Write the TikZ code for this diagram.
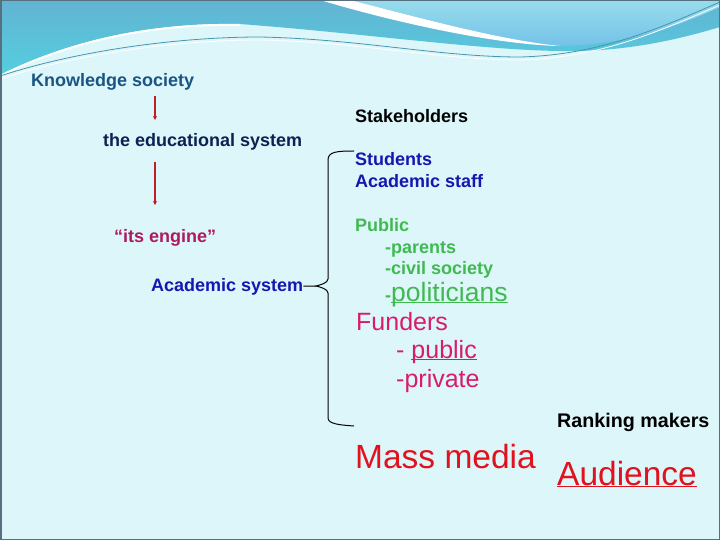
\documentclass[tikz,border=0pt]{standalone}
\usepackage{fontspec}
\setmainfont{Liberation Sans}
\usetikzlibrary{arrows.meta}

\definecolor{slidebg}{RGB}{221,246,250}
\definecolor{wavetop}{RGB}{98,180,210}
\definecolor{wavelow}{RGB}{84,206,224}
\definecolor{skytop}{RGB}{152,220,236}
\definecolor{skylow}{RGB}{116,194,232}
\definecolor{waveline}{RGB}{70,150,175}
\definecolor{framegray}{RGB}{86,112,127}
\definecolor{knowblue}{RGB}{26,84,132}
\definecolor{edunavy}{RGB}{12,34,82}
\definecolor{acadblue}{RGB}{22,22,176}
\definecolor{enginered}{RGB}{172,26,98}
\definecolor{pubgreen}{RGB}{64,186,80}
\definecolor{fundpink}{RGB}{216,28,108}
\definecolor{mediared}{RGB}{224,18,30}
\definecolor{arrowred}{RGB}{190,30,40}

% underline through descenders, as on the slide
\newcommand{\ulin}[1]{\setbox0\hbox{#1}\rlap{\rule[-2.4pt]{\wd0}{1.5pt}}\box0}

\tikzset{
  label/.style={anchor=base west, inner sep=0pt},
  smalltxt/.style={label, font=\fontsize{18pt}{20pt}\selectfont\bfseries},
  midtxt/.style={label, font=\fontsize{25pt}{28pt}\selectfont},
  bigtxt/.style={label, font=\fontsize{33.5pt}{36pt}\selectfont},
  redarrow/.style={draw=arrowred, line width=1.4pt, -{Stealth[length=4pt,width=4pt]}},
  brace/.style={draw=black, line width=1pt}
}

\begin{document}
\begin{tikzpicture}[x=1pt,y=-1pt]
\useasboundingbox (0,0) rectangle (720,540);

% slide background and header wave
    \fill[slidebg] (0,0) rectangle (720,540);
    \shade[top color=wavetop, bottom color=wavelow]
        (0,0) -- (720,0) -- (720,27) .. controls (670,42) and (620,52) .. (560,51)
        .. controls (480,50) and (360,33) .. (240,24)
        .. controls (130,22) and (50,50) .. (0,75) -- cycle;
    \shade[top color=skytop, bottom color=skylow]
        (350,0) -- (720,0) -- (720,7) .. controls (680,25) and (630,45) .. (560,46)
        .. controls (500,40) and (420,18) .. (350,0) -- cycle;
    \fill[white]
        (320,0) -- (350,0) .. controls (420,18) and (500,40) .. (560,46)
        .. controls (500,45) and (400,24) .. (320,0) -- cycle;
    \draw[white, line width=2pt] (0,76) .. controls (50,51) and (130,23) .. (240,25);
    \draw[waveline, line width=0.8pt] (0,76) .. controls (80,50) and (180,37) .. (260,37)
        .. controls (360,39) and (440,57) .. (520,57) .. controls (600,55) and (660,28) .. (720,2);
    \draw[white, line width=0.8pt] (0,79) .. controls (80,53) and (180,40) .. (260,40)
        .. controls (360,42) and (440,60) .. (520,60) .. controls (600,58) and (660,31) .. (720,5);
    \draw[framegray, line width=1.5pt] (0.75,0.75) rectangle (719.25,539.25);

% left column
    \node[smalltxt, text=knowblue] (know) at (31,87) {Knowledge society};
    \node[smalltxt, text=edunavy] (edu) at (103,147) {the educational system};
    \node[smalltxt, text=enginered] (engine) at (114,243) {“its engine”};
    \node[smalltxt, text=acadblue] (acad) at (151,291) {Academic system};

    \coordinate (a1s) at (155,96);
    \coordinate (a1e) at (155,120);
    \coordinate (a2s) at (155,162);
    \coordinate (a2e) at (155,205);
    \path[redarrow] (a1s) -- (a1e);
    \path[redarrow] (a2s) -- (a2e);

% stakeholders column
    \node[smalltxt, text=black] (stake) at (355,123) {Stakeholders};
    \node[smalltxt, text=acadblue] (stud) at (355,166) {Students};
    \node[smalltxt, text=acadblue] (staff) at (355,188) {Academic staff};
    \node[smalltxt, text=pubgreen] (public) at (355,232) {Public};
    \node[smalltxt, text=pubgreen] (parents) at (385,253) {-parents};
    \node[smalltxt, text=pubgreen] (civil) at (385,274) {-civil society};
    \node[label, text=pubgreen] (polit) at (385,301)
        {{\fontsize{18pt}{20pt}\selectfont\bfseries -}{\fontsize{26.5pt}{28pt}\selectfont\ulin{politicians}}};
    \node[midtxt, text=fundpink] (fund) at (356,330) {Funders};
    \node[midtxt, text=fundpink] (fpub) at (396,358) {- \ulin{public}};
    \node[midtxt, text=fundpink] (fpriv) at (396,387) {-private};

    \node[label, font=\fontsize{19.7pt}{22pt}\selectfont\bfseries] (rank) at (557,427) {Ranking makers};
    \node[bigtxt, text=mediared] (media) at (355,468) {Mass media};
    \node[bigtxt, text=mediared] (aud) at (557,485) {\ulin{Audience}};

% brace
    \coordinate (btop) at (354,151);
    \coordinate (bmid) at (316,286);
    \coordinate (bbot) at (354,426);
    \draw[brace] (btop) .. controls (336,151) and (328,152) .. (328,160) -- (328,279)
        .. controls (328,283) and (320,285) .. (bmid)
        .. controls (320,287) and (328,289) .. (328,293) -- (328,418)
        .. controls (328,424) and (340,425) .. (bbot);
    \draw[brace] (acad) -- (bmid);
\end{tikzpicture}
\end{document}
